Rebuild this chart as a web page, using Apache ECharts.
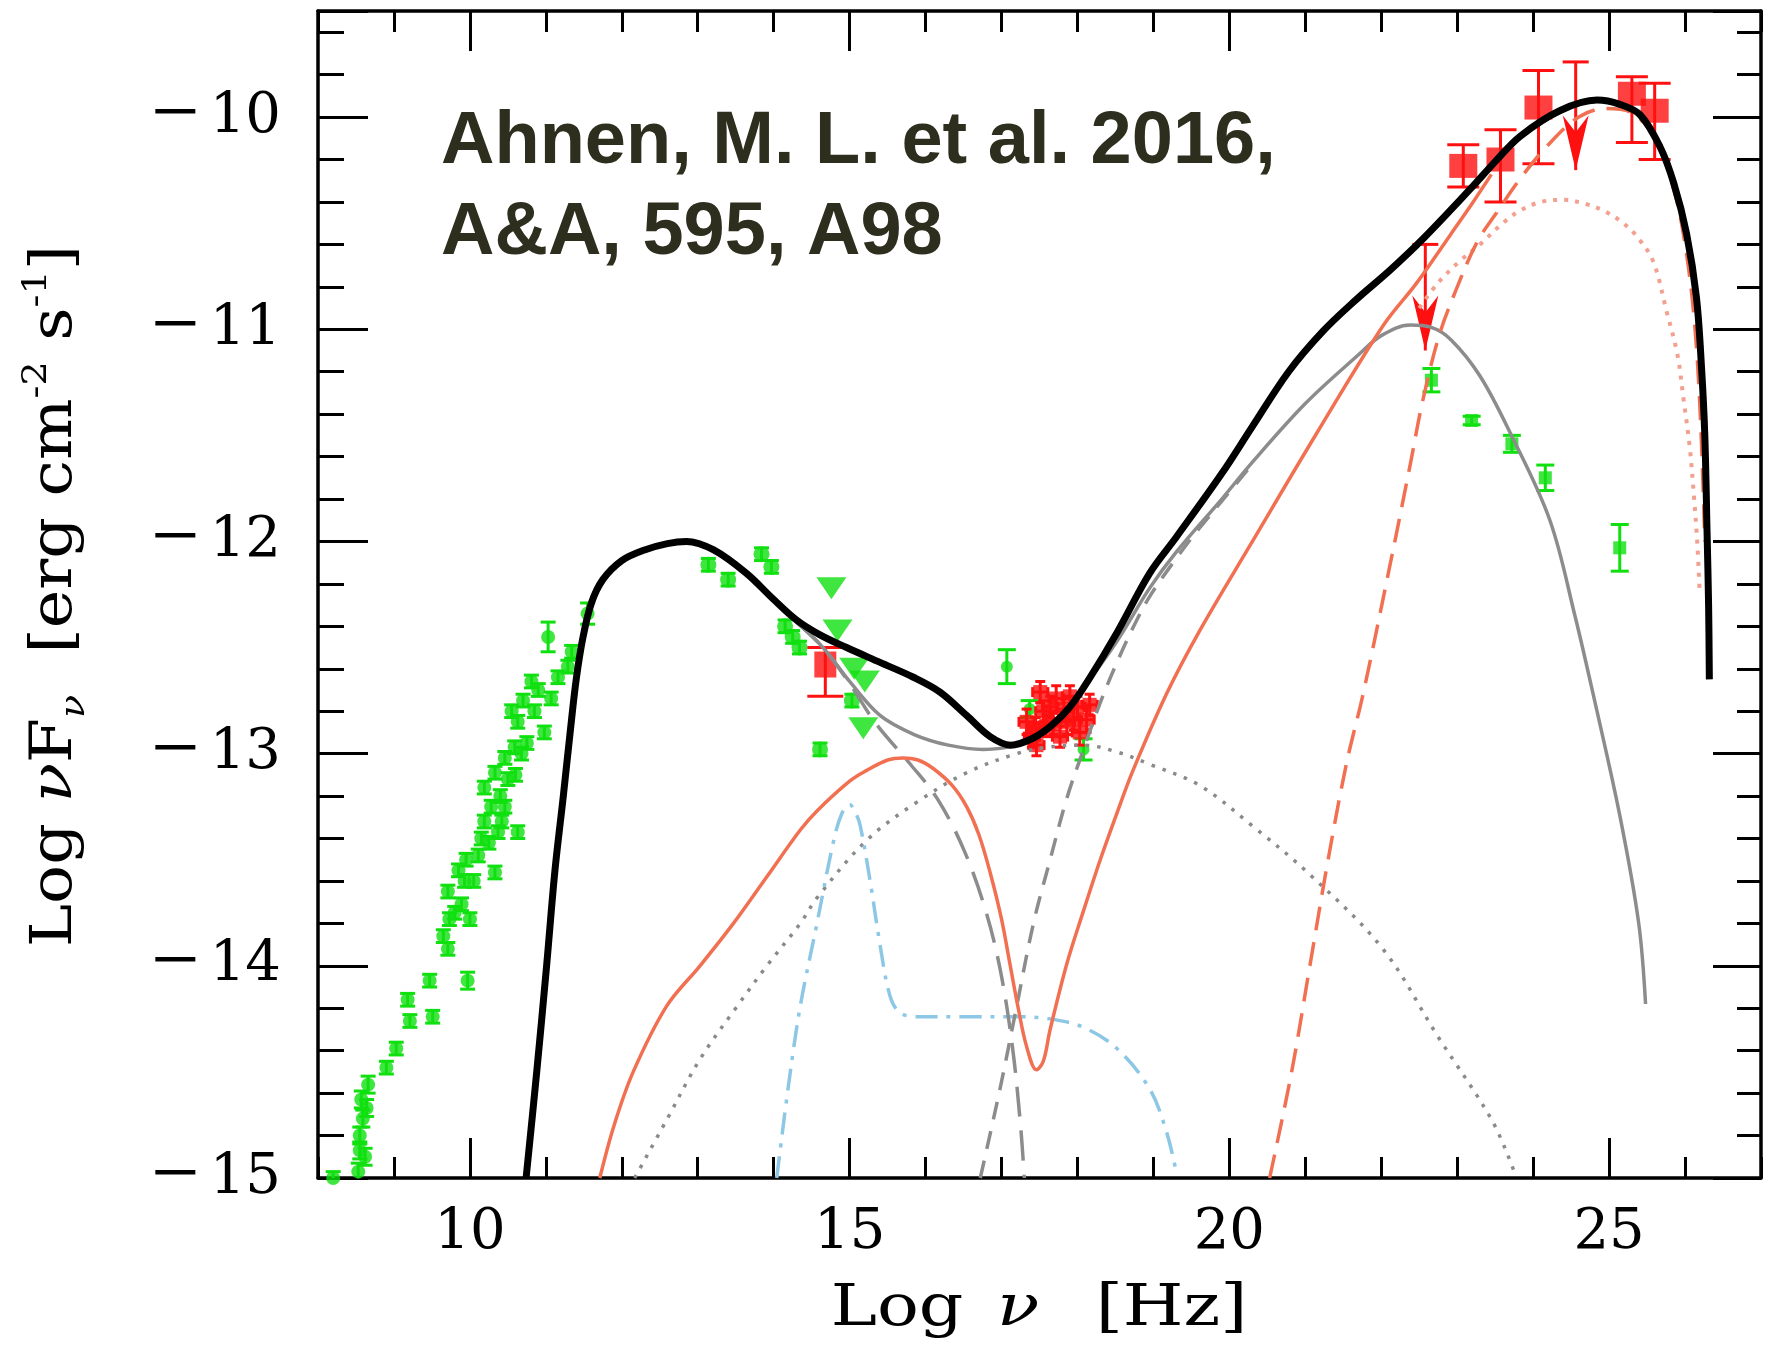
<!DOCTYPE html>
<html><head><meta charset="utf-8">
<script src="https://cdn.jsdelivr.net/npm/echarts@6/dist/echarts.min.js"></script>
<style>html,body{margin:0;padding:0;background:#fff}#c{width:1773px;height:1345px}</style>
</head><body><div id="c"></div>
<script>
// ---------- tick labels ----------
const xTickLabels = [10, 15, 20, 25];
const yTickLabels = [-15, -14, -13, -12, -11, -10];

// ---------- model curves [log nu, log nuFnu] ----------
const totalModel = [[10.74,-15.0],[10.88,-14.5],[11.01,-14.0],[11.12,-13.55],[11.23,-13.2],[11.32,-12.9],[11.4,-12.65],[11.49,-12.45],[11.6,-12.29],[11.75,-12.18],[12.0,-12.09],[12.3,-12.04],[12.6,-12.01],[12.85,-12.0],[13.21,-12.04],[13.64,-12.15],[13.99,-12.27],[14.3,-12.37],[14.61,-12.44],[14.96,-12.5],[15.4,-12.57],[15.84,-12.64],[16.19,-12.71],[16.54,-12.82],[16.85,-12.92],[17.12,-12.96],[17.4,-12.93],[17.65,-12.87],[17.9,-12.78],[18.15,-12.65],[18.52,-12.43],[18.95,-12.15],[19.3,-11.98],[19.9,-11.68],[20.3,-11.46],[20.78,-11.2],[21.23,-11.01],[21.67,-10.86],[22.12,-10.72],[22.56,-10.57],[23.17,-10.34],[23.5,-10.21],[23.83,-10.09],[24.35,-9.97],[24.84,-9.92],[25.14,-9.94],[25.41,-9.99],[25.67,-10.14],[25.85,-10.31],[26.02,-10.55],[26.15,-10.85],[26.22,-11.2],[26.26,-11.5],[26.29,-11.96],[26.31,-12.3],[26.32,-12.65]];
const grayTotal = [[14.3,-12.38],[14.65,-12.5],[15.0,-12.66],[15.4,-12.82],[15.85,-12.91],[16.3,-12.96],[16.76,-12.98],[17.2,-12.96],[17.5,-12.91],[17.86,-12.79],[18.08,-12.69],[18.52,-12.47],[18.95,-12.22],[19.3,-12.05],[19.9,-11.8],[20.27,-11.64],[21.0,-11.35],[21.7,-11.12],[22.0,-11.03],[22.38,-10.98],[22.65,-10.99],[22.92,-11.05],[23.3,-11.22],[23.7,-11.49],[24.22,-11.9],[24.55,-12.35],[24.79,-12.72],[25.14,-13.29],[25.39,-13.8],[25.48,-14.18]];
const graySync = [[14.3,-12.38],[14.65,-12.5],[15.0,-12.67],[15.35,-12.86],[15.8,-13.05],[16.15,-13.21],[16.5,-13.45],[16.8,-13.75],[17.0,-14.05],[17.15,-14.4],[17.25,-14.75],[17.3,-15.0]];
const graySSC = [[16.72,-15.0],[16.98,-14.58],[17.2,-14.19],[17.42,-13.8],[17.64,-13.5],[17.86,-13.21],[18.08,-12.98],[18.3,-12.76],[18.52,-12.57],[18.74,-12.4],[18.95,-12.26],[19.3,-12.08],[19.6,-11.94],[19.9,-11.81],[20.27,-11.65]];
const grayDotted = [[12.17,-15.0],[12.6,-14.72],[13.03,-14.44],[13.5,-14.2],[13.91,-14.0],[14.35,-13.8],[14.57,-13.68],[15.22,-13.41],[15.88,-13.23],[16.54,-13.09],[17.2,-13.0],[17.6,-12.97],[18.08,-12.96],[18.5,-12.99],[18.95,-13.05],[19.61,-13.15],[20.3,-13.34],[21.06,-13.57],[22.02,-13.92],[22.74,-14.33],[23.46,-14.73],[23.75,-14.97]];
const orangeTotal = [[11.71,-15.0],[11.9,-14.75],[12.15,-14.5],[12.59,-14.19],[13.03,-14.0],[13.47,-13.8],[13.91,-13.58],[14.35,-13.36],[14.57,-13.27],[15.0,-13.13],[15.22,-13.08],[15.5,-13.03],[15.7,-13.02],[15.9,-13.03],[16.1,-13.07],[16.35,-13.15],[16.54,-13.25],[16.7,-13.38],[16.85,-13.56],[17.0,-13.78],[17.11,-13.99],[17.22,-14.2],[17.33,-14.38],[17.46,-14.49],[17.55,-14.45],[17.64,-14.3],[17.86,-13.99],[18.08,-13.74],[18.3,-13.5],[18.52,-13.28],[18.73,-13.08],[19.17,-12.72],[19.61,-12.42],[20.27,-12.02],[21.15,-11.49],[22.03,-10.98],[22.47,-10.78],[22.9,-10.56],[23.21,-10.4],[23.45,-10.27]];
const orangeDashed = [[20.53,-15.0],[20.82,-14.5],[21.06,-14.0],[21.3,-13.5],[21.54,-13.05],[21.76,-12.72],[22.11,-12.12],[22.38,-11.64],[22.55,-11.33],[22.77,-11.02],[22.99,-10.81],[23.26,-10.59],[23.52,-10.45],[23.83,-10.29],[24.2,-10.13],[24.6,-10.0],[24.95,-9.96],[25.3,-9.98],[25.6,-10.1],[25.85,-10.34],[26.0,-10.6],[26.12,-10.95],[26.2,-11.4],[26.26,-12.0]];
const orangeDotted = [[22.5,-10.9],[22.75,-10.78],[23.03,-10.68],[23.3,-10.6],[23.6,-10.5],[23.83,-10.44],[24.1,-10.4],[24.4,-10.39],[24.7,-10.41],[24.92,-10.44],[25.15,-10.49],[25.36,-10.56],[25.58,-10.68],[25.76,-10.92],[25.9,-11.12],[25.98,-11.33],[26.06,-11.55],[26.12,-11.8],[26.16,-12.0],[26.19,-12.22]];
const blueDisk = [[14.04,-15.0],[14.2,-14.55],[14.35,-14.19],[14.57,-13.8],[14.79,-13.41],[14.9,-13.28],[15.0,-13.24],[15.08,-13.28],[15.14,-13.34],[15.27,-13.6],[15.4,-13.9],[15.53,-14.14],[15.66,-14.22],[15.9,-14.24],[16.5,-14.24],[17.2,-14.24],[17.64,-14.25],[18.08,-14.29],[18.52,-14.39],[18.95,-14.58],[19.17,-14.78],[19.3,-14.97]];

// ---------- data points [log nu, log nuFnu, error] ----------
const radioGreen = [[8.2,-15.0,0.03],[8.53,-14.97,0.04],[8.55,-14.87,0.04],[8.55,-14.8,0.04],[8.59,-14.72,0.04],[8.57,-14.63,0.04],[8.66,-14.56,0.04],[8.64,-14.67,0.04],[8.9,-14.48,0.03],[9.03,-14.39,0.03],[9.21,-14.26,0.03],[9.18,-14.16,0.03],[9.47,-14.07,0.03],[9.51,-14.24,0.03],[9.65,-13.86,0.03],[9.71,-13.92,0.03],[9.97,-14.07,0.04],[9.73,-13.78,0.03],[9.71,-13.65,0.03],[9.89,-13.71,0.03],[10.0,-13.78,0.03],[9.93,-13.6,0.03],[9.95,-13.5,0.03],[10.11,-13.48,0.03],[10.33,-13.56,0.03],[10.19,-13.32,0.03],[10.37,-13.37,0.03],[10.63,-13.37,0.03],[10.19,-13.16,0.03],[10.33,-13.09,0.03],[10.46,-13.25,0.03],[10.46,-13.02,0.03],[10.59,-12.97,0.03],[10.63,-12.85,0.03],[10.55,-12.8,0.03],[10.81,-12.66,0.03],[10.85,-12.8,0.03],[10.98,-12.9,0.03],[11.03,-12.45,0.07],[11.07,-12.74,0.03],[11.16,-12.64,0.03],[11.29,-12.59,0.03],[11.34,-12.52,0.03],[11.55,-12.34,0.05],[9.8,-13.75,0.03],[10.05,-13.6,0.03],[10.25,-13.42,0.03],[10.4,-13.2,0.03],[10.5,-13.12,0.03],[10.28,-13.25,0.03],[10.7,-12.75,0.03],[10.9,-12.7,0.03],[10.75,-12.95,0.03],[10.6,-13.1,0.03],[10.15,-13.4,0.03],[10.42,-13.32,0.03],[10.68,-13.0,0.03],[8.62,-14.9,0.04],[9.85,-13.55,0.03]];
const opticalGreen = [[13.14,-12.11,0.03],[13.4,-12.18,0.03],[13.84,-12.06,0.03],[13.97,-12.12,0.03],[14.15,-12.4,0.03],[14.25,-12.45,0.03],[14.34,-12.5,0.03],[14.61,-12.98,0.03],[15.03,-12.75,0.03]];
const opticalLimits = [[14.76,-12.22],[14.84,-12.42],[15.06,-12.6],[15.2,-12.66],[15.18,-12.88]];
const xrayGreen = [[17.07,-12.59,0.08],[17.37,-12.79,0.04],[18.08,-12.98,0.05]];
const gammaGreen = [[22.66,-11.24,0.055],[23.19,-11.43,0.02],[23.72,-11.54,0.04],[24.16,-11.7,0.06],[25.14,-12.03,0.11]];
// [log nu, log nuFnu, x error, y error]
const xrayRed = [[17.33,-12.85,0.1,0.06],[17.4,-12.92,0.1,0.05],[17.46,-12.96,0.1,0.05],[17.51,-12.71,0.1,0.05],[17.59,-12.87,0.1,0.05],[17.64,-12.78,0.1,0.05],[17.72,-12.74,0.1,0.06],[17.77,-12.92,0.1,0.05],[17.86,-12.85,0.1,0.06],[17.9,-12.73,0.1,0.05],[18.0,-12.78,0.1,0.05],[18.03,-12.9,0.1,0.06],[18.12,-12.84,0.1,0.06],[18.16,-12.77,0.1,0.05],[17.55,-12.8,0.1,0.05],[17.68,-12.86,0.1,0.05],[17.82,-12.79,0.1,0.05],[17.95,-12.84,0.1,0.05],[17.45,-12.88,0.1,0.05]];
// [log nu, log nuFnu, lower end, upper end]
const opticalRed = [[14.68,-12.58,-12.73,-12.5]];
const gammaRed = [[23.08,-10.23,-10.33,-10.13],[23.57,-10.2,-10.40,-10.06],[24.07,-9.955,-10.22,-9.78],[25.3,-9.89,-10.12,-9.81],[25.6,-9.97,-10.2,-9.84]];
// [log nu, limit value, arrow tip]
const gammaRedLimits = [[22.58,-10.6,-11.1],[24.56,-9.74,-10.25]];

// ---------- helpers ----------
const SERIF = '"DejaVu Serif", "Liberation Serif", serif';
function symErr(rows){ return rows.map(r => [r[0], r[1]-r[2], r[1]+r[2]]); }
function vErrRender(color, lw, cap){
  return function(params, api){
    const x = api.value(0), lo = api.value(1), hi = api.value(2);
    const a = api.coord([x, hi]), b = api.coord([x, lo]);
    const st = {stroke: color, lineWidth: lw};
    return {type:'group', children:[
      {type:'line', shape:{x1:a[0],y1:a[1],x2:b[0],y2:b[1]}, style:st},
      {type:'line', shape:{x1:a[0]-cap/2,y1:a[1],x2:a[0]+cap/2,y2:a[1]}, style:st},
      {type:'line', shape:{x1:b[0]-cap/2,y1:b[1],x2:b[0]+cap/2,y2:b[1]}, style:st}
    ]};
  };
}
function xyErrRender(color, lw, cap){
  return function(params, api){
    const x = api.value(0), y = api.value(1), dx = api.value(2), dy = api.value(3);
    const t = api.coord([x, y+dy]), bt = api.coord([x, y-dy]);
    const l = api.coord([x-dx, y]), r = api.coord([x+dx, y]);
    const st = {stroke: color, lineWidth: lw};
    return {type:'group', children:[
      {type:'line', shape:{x1:t[0],y1:t[1],x2:bt[0],y2:bt[1]}, style:st},
      {type:'line', shape:{x1:t[0]-cap/2,y1:t[1],x2:t[0]+cap/2,y2:t[1]}, style:st},
      {type:'line', shape:{x1:bt[0]-cap/2,y1:bt[1],x2:bt[0]+cap/2,y2:bt[1]}, style:st},
      {type:'line', shape:{x1:l[0],y1:l[1],x2:r[0],y2:r[1]}, style:st},
      {type:'line', shape:{x1:l[0],y1:l[1]-cap/2,x2:l[0],y2:l[1]+cap/2}, style:st},
      {type:'line', shape:{x1:r[0],y1:r[1]-cap/2,x2:r[0],y2:r[1]+cap/2}, style:st}
    ]};
  };
}
function limitRender(color, lw, cap){
  return function(params, api){
    const x = api.value(0), top = api.value(1), tip = api.value(2);
    const a = api.coord([x, top]), b = api.coord([x, tip]);
    const st = {stroke: color, lineWidth: lw};
    return {type:'group', children:[
      {type:'line', shape:{x1:a[0],y1:a[1],x2:b[0],y2:b[1]}, style:st},
      {type:'line', shape:{x1:a[0]-cap/2,y1:a[1],x2:a[0]+cap/2,y2:a[1]}, style:st},
      {type:'polygon', shape:{points:[[b[0],b[1]],[b[0]-13,b[1]-55],[b[0],b[1]-38],[b[0]+13,b[1]-55]]}, style:{fill:color}}
    ]};
  };
}
function lineSeries(data, color, width, type, z){
  return {type:'line', data:data, showSymbol:false, symbol:'none', smooth:0.35,
    lineStyle:{color:color, width:width, type:type, join:'round'}, z:z, silent:true, clip:true};
}
function customSeries(data, render, z, dims){
  return {type:'custom', data:data, renderItem:render, clip:true, silent:true, z:z,
    encode:{x:0, y:dims}};
}

const axisLine = {show:true, onZero:false, lineStyle:{color:'#000', width:3.5}};
const tickStyle = {color:'#000', width:3};
const RED = '#ff1010', GREEN = '#10e010', ORANGE = '#f27052', GRAY = '#8c8c8c';
const titleRich = {
  a:{fill:'#000', fontFamily:SERIF, fontSize:58, lineHeight:72},
  i:{fill:'#000', fontFamily:SERIF, fontStyle:'italic', fontSize:58, lineHeight:72},
  ix:{fill:'#000', fontFamily:SERIF, fontStyle:'italic', fontSize:58, lineHeight:72, padding:[0,47,0,28]},
  sub:{fill:'#000', fontFamily:SERIF, fontStyle:'italic', fontSize:34, lineHeight:34, verticalAlign:'bottom'},
  sup:{fill:'#000', fontFamily:SERIF, fontSize:34, lineHeight:34, verticalAlign:'top'}
};

const chart = echarts.init(document.getElementById('c'), null, {renderer:'canvas', width:1773, height:1345});
const option = {
  animation:false,
  backgroundColor:'#ffffff',
  grid:{left:318, right:12, top:11, bottom:167},
  xAxis:[
    {type:'value', min:8, max:27, interval:1, position:'bottom', axisLine:axisLine,
     axisTick:{show:true, inside:true, length:21, lineStyle:tickStyle},
     axisLabel:{show:true, customValues:xTickLabels, margin:27, color:'#000', fontFamily:SERIF, fontSize:56},
     splitLine:{show:false}},
    {type:'value', min:8, max:27, position:'bottom', axisLine:{show:false},
     axisTick:{show:true, inside:true, length:40, customValues:xTickLabels, lineStyle:tickStyle},
     axisLabel:{show:false}, splitLine:{show:false}},
    {type:'value', min:8, max:27, interval:1, position:'top', axisLine:axisLine,
     axisTick:{show:true, inside:true, length:21, lineStyle:tickStyle},
     axisLabel:{show:false}, splitLine:{show:false}},
    {type:'value', min:8, max:27, position:'top', axisLine:{show:false},
     axisTick:{show:true, inside:true, length:40, customValues:xTickLabels, lineStyle:tickStyle},
     axisLabel:{show:false}, splitLine:{show:false}}
  ],
  yAxis:[
    {type:'value', min:-15, max:-9.5, interval:1, position:'left', axisLine:axisLine,
     axisTick:{show:true, inside:true, length:50, lineStyle:tickStyle},
     minorTick:{show:true, splitNumber:5, length:26, lineStyle:tickStyle},
     splitLine:{show:false}, minorSplitLine:{show:false},
     axisLabel:{show:true, showMaxLabel:false, margin:37,
       formatter:function(v){ if (yTickLabels.indexOf(v) < 0) return ''; return '{m|−}{d|' + Math.abs(v) + '}'; },
       rich:{m:{color:'#000', fontFamily:'"Liberation Serif", serif', fontSize:86, lineHeight:60, padding:[0,10,0,0]}, d:{color:'#000', fontFamily:SERIF, fontSize:56, lineHeight:60}}}},
    {type:'value', min:-15, max:-9.5, interval:1, position:'right', axisLine:axisLine,
     axisTick:{show:true, inside:true, length:48, lineStyle:tickStyle},
     minorTick:{show:true, splitNumber:5, length:24, lineStyle:tickStyle},
     splitLine:{show:false}, minorSplitLine:{show:false}, axisLabel:{show:false}}
  ],
  graphic:[
    {type:'text', left:441, top:97, z:50,
     style:{text:'Ahnen, M. L. et al. 2016,\nA&A, 595, A98', font:'bold 74px "Liberation Sans", Arial, sans-serif', fill:'#2e2e1e', lineHeight:91}},
    {type:'text', x:1039, y:1310, scaleX:1.2, z:50,
     style:{text:'{a|Log}{ix|ν}{a|[Hz]}', rich:titleRich, align:'center', verticalAlign:'middle', fill:'#000', fontFamily:SERIF, fontSize:58}},
    {type:'text', x:56, y:596, rotation:Math.PI/2, scaleX:1.12, z:50,
     style:{text:'{a|Log }{i|ν}{a|F}{sub|ν}{a|  [erg cm}{sup|-2}{a| s}{sup|-1}{a|]}', rich:titleRich, align:'center', verticalAlign:'middle', fill:'#000', fontFamily:SERIF, fontSize:58}}
  ],
  series:[
    // data (drawn below the model curves)
    customSeries(symErr(radioGreen), vErrRender(GREEN, 3, 15), 2, [1,2]),
    {type:'scatter', data:radioGreen.map(r=>[r[0],r[1]]), symbol:'circle', symbolSize:14, itemStyle:{color:GREEN}, z:2, silent:true},
    customSeries(symErr(opticalGreen), vErrRender(GREEN, 3, 15), 2, [1,2]),
    {type:'scatter', data:opticalGreen.map(r=>[r[0],r[1]]), symbol:'circle', symbolSize:16, itemStyle:{color:GREEN}, z:2, silent:true},
    {type:'scatter', data:opticalLimits, symbol:'triangle', symbolRotate:180, symbolSize:[30,22], itemStyle:{color:GREEN}, z:2, silent:true},
    customSeries(symErr(xrayGreen), vErrRender(GREEN, 3, 18), 2, [1,2]),
    {type:'scatter', data:xrayGreen.map(r=>[r[0],r[1]]), symbol:'circle', symbolSize:12, itemStyle:{color:GREEN}, z:2, silent:true},
    customSeries(symErr(gammaGreen), vErrRender(GREEN, 3, 18), 2, [1,2]),
    {type:'scatter', data:gammaGreen.map(r=>[r[0],r[1]]), symbol:'rect', symbolSize:13, itemStyle:{color:GREEN}, z:2, silent:true},
    customSeries(xrayRed, xyErrRender(RED, 3, 10), 3, [1]),
    {type:'scatter', data:xrayRed.map(r=>[r[0],r[1]]), symbol:'rect', symbolSize:14, itemStyle:{color:RED}, z:3, silent:true},
    customSeries(opticalRed.map(r=>[r[0],r[2],r[3]]), vErrRender(RED, 3, 36), 3, [1,2]),
    {type:'scatter', data:opticalRed.map(r=>[r[0],r[1]]), symbol:'rect', symbolSize:[22,26], itemStyle:{color:RED}, z:3, silent:true},
    customSeries(gammaRed.map(r=>[r[0],r[2],r[3]]), vErrRender(RED, 3, 32), 3, [1,2]),
    {type:'scatter', data:gammaRed.map(r=>[r[0],r[1]]), symbol:'rect', symbolSize:[28,24], itemStyle:{color:RED}, z:3, silent:true},
    customSeries(gammaRedLimits, limitRender(RED, 3, 26), 3, [1,2]),
    // model components
    lineSeries(grayDotted, '#8a8a8a', 3.5, [3.5, 8], 4),
    lineSeries(blueDisk, '#8cc8e6', 3.5, [22, 9, 4, 9], 4),
    lineSeries(graySync, GRAY, 3.5, [30, 14], 4),
    lineSeries(graySSC, GRAY, 3.5, [18, 12], 4),
    lineSeries(grayTotal, GRAY, 3.5, 'solid', 4),
    lineSeries(orangeDotted, '#f3a090', 4, [4, 7], 4),
    lineSeries(orangeDashed, ORANGE, 3.5, [24, 12], 4),
    lineSeries(orangeTotal, ORANGE, 3.5, 'solid', 4),
    lineSeries(totalModel, '#000000', 7, 'solid', 6)
  ]
};
chart.setOption(option);
</script>
</body></html>
